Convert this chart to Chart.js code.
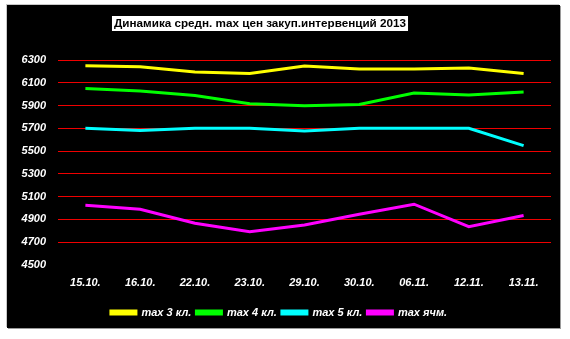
<!DOCTYPE html>
<html><head><meta charset="utf-8">
<script src="https://cdn.jsdelivr.net/npm/chart.js@4"></script>
<style>
html,body{margin:0;padding:0;background:#fff;width:570px;height:339px;overflow:hidden}
#box{position:absolute;left:7px;top:5px;width:553px;height:323px;background:#000;box-shadow:1px 1px 0 #9a9a9a, -1px -1px 0 #c8c8c8}
canvas{display:block}
</style></head><body>
<div id="box"><canvas id="c" width="553" height="323"></canvas></div>
<script>
const TITLE = "Динамика средн. max цен закуп.интервенций 2013";
const categories = ["15.10.","16.10.","22.10.","23.10.","29.10.","30.10.","06.11.","12.11.","13.11."];
const max3 = [6250,6240,6195,6182,6247,6222,6222,6230,6182];
const max4 = [6050,6027,5988,5916,5898,5910,6010,5993,6019];
const max5 = [5700,5680,5700,5700,5677,5700,5700,5700,5548];
const maxBarley = [5024,4990,4866,4792,4851,4946,5034,4836,4934];
const seriesNames = ["max 3 кл.","max 4 кл.","max 5 кл.","max ячм."];
const seriesColors = ["#ffff00","#00ff00","#00ffff","#ff00ff"];
const yMin = 4500, yMax = 6300, yStep = 200;

const font = {family:"'Liberation Sans', Arial, sans-serif", size:11, weight:"bold", style:"italic"};

const titlePlugin = {
  id:'boxTitle',
  afterDraw(chart){
    const ctx = chart.ctx;
    ctx.save();
    ctx.font = "bold 11.7px 'Liberation Sans', Arial, sans-serif";
    const w = ctx.measureText(TITLE).width;
    const cx = 253, cy = 18.5;
    ctx.fillStyle = "#fff";
    ctx.fillRect(cx - w/2 - 2, cy - 7.5, w + 4, 15);
    ctx.fillStyle = "#000";
    ctx.textAlign = "center";
    ctx.textBaseline = "middle";
    ctx.fillText(TITLE, cx, cy);
    ctx.restore();
  }
};

const datasets = [max3,max4,max5,maxBarley].map((d,i)=>({
  label: seriesNames[i],
  data: d,
  borderColor: seriesColors[i],
  backgroundColor: seriesColors[i],
  borderWidth: 3,
  pointRadius: 0,
  tension: 0,
  fill: false
}));

new Chart(document.getElementById('c'), {
  type:'line',
  data:{labels:categories, datasets},
  plugins:[titlePlugin],
  options:{
    responsive:false,
    animation:false,
    devicePixelRatio:1,
    layout:{padding:{left:0,right:9,top:55,bottom:0}},
    plugins:{
      legend:{
        position:'bottom',
        labels:{color:'#fff', font, boxWidth:25, boxHeight:3, padding:5}
      },
      tooltip:{enabled:false},
      title:{display:false}
    },
    scales:{
      x:{
        offset:true,
        afterFit(s){ s.height = 37; },
        grid:{display:false, drawTicks:false},
        border:{display:false},
        ticks:{color:'#fff', font, padding:11, maxRotation:0, autoSkip:false}
      },
      y:{
        min:yMin, max:yMax,
        afterFit(s){ s.width = 51; },
        grid:{drawTicks:false, color:(c)=> c.tick && c.tick.value===yMin ? 'rgba(0,0,0,0)' : '#f00000', lineWidth:1},
        border:{display:false},
        ticks:{color:'#fff', font, stepSize:yStep, padding:12, callback:(v)=>String(v)}
      }
    }
  }
});
</script>
</body></html>
